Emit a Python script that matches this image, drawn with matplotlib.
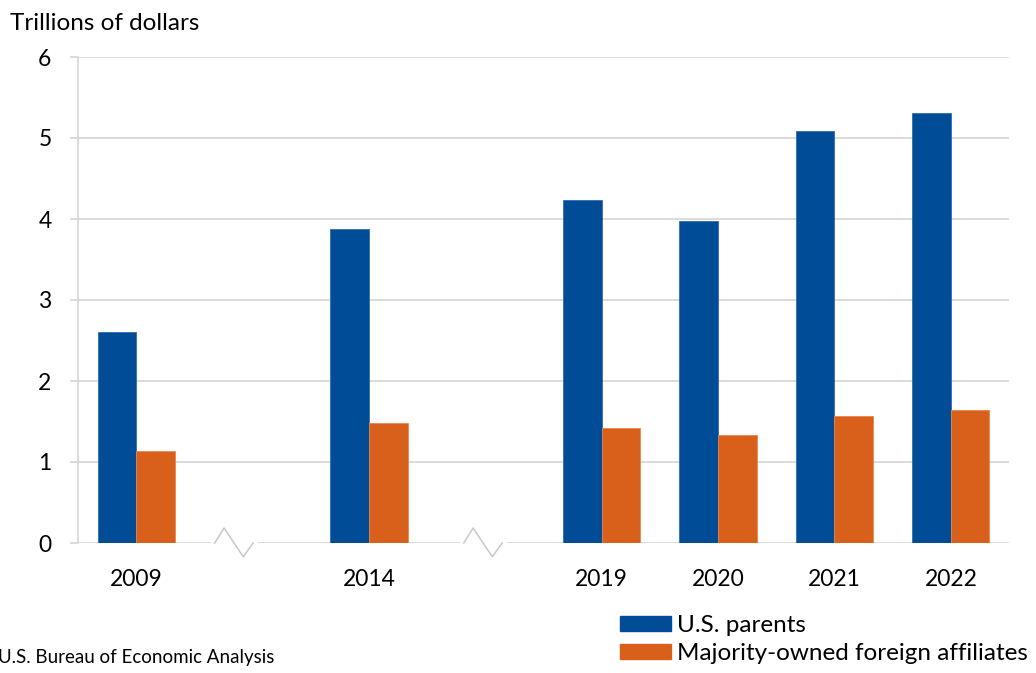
import matplotlib.pyplot as plt
import numpy as np
from matplotlib.patches import Patch

# data
years = ["2009", "2014", "2019", "2020", "2021", "2022"]
slots = [0, 2, 4, 5, 6, 7]          # 2009 and 2014 sit apart with breaks between
us_parents = [2.60, 3.88, 4.23, 3.97, 5.09, 5.31]
foreign_affiliates = [1.14, 1.48, 1.42, 1.33, 1.57, 1.64]
break_slots = [0.84, 2.98]

blue = "#004C97"
orange = "#D9601A"
grid_col = "#D9D9D9"

plt.rcParams["font.family"] = ["Lato", "DejaVu Sans"]

fig = plt.figure(figsize=(10.36, 6.73), dpi=100)
ax = fig.add_axes([78 / 1036, 1 - 543 / 673, (1009 - 78) / 1036, (543 - 57) / 673])

x = np.array(slots)
w = 0.332
ax.bar(x - w / 2, us_parents, width=w, color=blue, edgecolor="#2E6DB0", linewidth=0.6, zorder=3)
ax.bar(x + w / 2, foreign_affiliates, width=w, color=orange, edgecolor="#E8874E", linewidth=0.6, zorder=3)

ax.set_xlim(-0.5, 7.5)
ax.set_ylim(0, 6)
ax.set_yticks(range(0, 7))
ax.set_xticks(x)
ax.set_xticklabels(years)
ax.grid(axis="y", color=grid_col, linewidth=1.3, zorder=0)
ax.set_axisbelow(True)

for s in ["top", "right", "bottom"]:
    ax.spines[s].set_visible(False)
ax.spines["left"].set_color(grid_col)
ax.spines["left"].set_linewidth(1.3)

ax.tick_params(axis="y", length=6, width=1.3, color=grid_col, pad=13, labelsize=16.5)
ax.tick_params(axis="x", length=0, pad=19, labelsize=16.5)

# axis break marks on the zero line
for b in break_slots:
    ax.plot([b - 0.18, b + 0.19], [0, 0], color="white", linewidth=3, zorder=1, clip_on=False)
    zx = [b - 0.165, b - 0.085, b + 0.08, b + 0.165]
    zy = [0, 0.185, -0.17, 0]
    ax.plot(zx, zy, color="#C8C8C8", linewidth=1.1, zorder=2, clip_on=False)

fig.text(10 / 1036, 1 - 24 / 673, "Trillions of dollars", fontsize=17.5, va="center", ha="left")
fig.text(-2 / 1036, 1 - 658 / 673, "U.S. Bureau of Economic Analysis", fontsize=13.5, va="center", ha="left")

handles = [Patch(color=blue, label="U.S. parents"),
           Patch(color=orange, label="Majority-owned foreign affiliates")]
fig.legend(handles=handles, loc="upper left", bbox_to_anchor=(620 / 1036, 1 - 615 / 673),
           frameon=False, fontsize=17.5, handlelength=2.1, handleheight=0.6,
           handletextpad=0.25, labelspacing=0.3, borderaxespad=0, borderpad=0)

plt.savefig("out.png", dpi=100)
